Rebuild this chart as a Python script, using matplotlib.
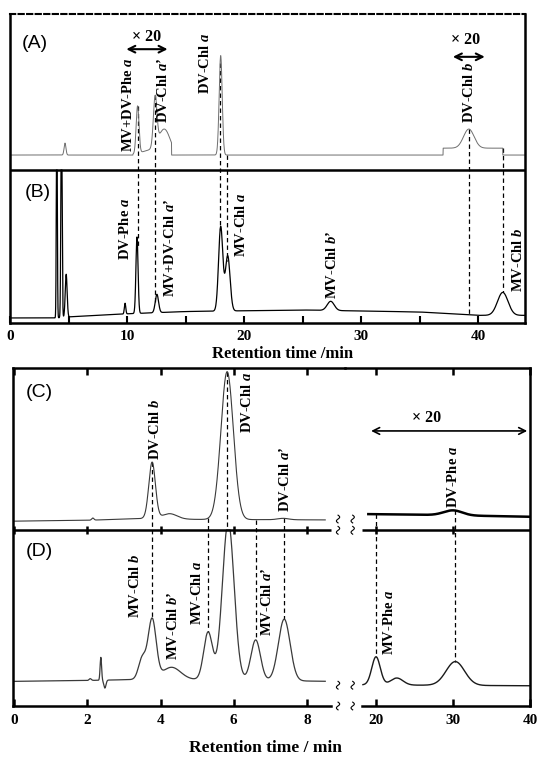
import numpy as np
import matplotlib.pyplot as plt

plt.rcParams['mathtext.fontset'] = 'custom'
plt.rcParams['mathtext.rm'] = 'Liberation Serif:bold'
plt.rcParams['mathtext.it'] = 'Liberation Serif:italic:bold'
plt.rcParams['mathtext.bf'] = 'Liberation Serif:bold'

SERIF = dict(family='Liberation Serif', weight='bold')
LBL = 10.5

# ---------------- (A)/(B): full run, 0-44 min ----------------
# trace A (upper) : flat baseline + peaks, two x20 windows
A_base_t = [0, 44]
A_base_y = [1.098, 1.098]
A_rt = [4.7, 18.0]
A_h = [0.078, 0.65]
A_w = [0.08, 0.13]
# window: start, end, offset, retention times, heights, widths
A_win = [
    (10.5, 13.8, 0.0, [10.9, 12.0, 12.4, 13.2], [0.31, 0.03, 0.32, 0.16], [0.12, 0.8, 0.15, 0.5]),
    (37.0, 42.1, 0.045, [39.2], [0.125], [0.45]),
]

# trace B (lower)
B_base_t = [0, 4, 5, 10, 15, 25, 35, 40, 44]
B_base_y = [0.033, 0.033, 0.04, 0.06, 0.075, 0.085, 0.072, 0.05, 0.05]
B_rt = [4.0, 4.4, 4.8, 9.83, 10.85, 12.55, 18.0, 18.6, 27.4, 42.1]
B_h = [1.5, 1.5, 0.28, 0.07, 0.50, 0.12, 0.55, 0.36, 0.06, 0.15]
B_w = [0.04, 0.05, 0.08, 0.06, 0.09, 0.14, 0.18, 0.2, 0.3, 0.45]

AB_dash = [10.9, 12.4, 17.95, 18.5, 39.2, 42.1]
A_labels = [("MV+DV-Phe $a$", 10.1, 1.12), ("DV-Chl $a$\u2019", 13.1, 1.31),
            ("DV-Chl $a$", 16.7, 1.50), ("DV-Chl $b$", 39.2, 1.31)]
B_labels = [("DV-Phe $a$", 9.8, 0.41), ("MV+DV-Chl $a$\u2019", 13.7, 0.17),
            ("MV-Chl $a$", 19.7, 0.43), ("MV-Chl $b$\u2019", 27.5, 0.16),
            ("MV-Chl $b$", 43.4, 0.20)]

# ---------------- (C)/(D): broken axis 0-8.65 | 18.2-40 min ----------------
C_base_t = [0, 2, 3.5, 5, 8.65]
C_base_y = [1.050, 1.055, 1.065, 1.060, 1.057]
C_rt = [2.15, 3.77, 4.25, 5.82, 7.35]
C_h = [0.012, 0.32, 0.03, 0.84, 0.008]
C_w = [0.03, 0.09, 0.2, 0.17, 0.15]

C2_base_t = [19.0, 28, 40]
C2_base_y = [1.09, 1.085, 1.075]
C2_rt = [30.0]
C2_h = [0.028]
C2_w = [1.2]

D_base_t = [0, 2, 3.2, 5, 8.65]
D_base_y = [0.14, 0.145, 0.15, 0.15, 0.14]
D_rt = [2.08, 2.37, 2.48, 3.5, 3.77, 4.3, 5.3, 5.85, 6.6, 7.38]
D_h = [0.01, 0.13, -0.045, 0.12, 0.34, 0.07, 0.27, 0.9, 0.23, 0.35]
D_w = [0.03, 0.02, 0.03, 0.1, 0.11, 0.25, 0.12, 0.16, 0.13, 0.16]

D2_base_t = [18.3, 40]
D2_base_y = [0.12, 0.115]
D2_rt = [20.0, 22.7, 30.3]
D2_h = [0.16, 0.04, 0.135]
D2_w = [0.55, 0.8, 1.2]

CD_dash = [3.77, 5.3, 5.82, 6.6, 7.37]
CD2_dash = [20.0, 30.2]
C_labels = [("DV-Chl $b$", 3.85, 1.40), ("DV-Chl $a$", 6.37, 1.55), ("DV-Chl $a$\u2019", 7.4, 1.10)]
C2_labels = [("DV-Phe $a$", 30.0, 1.125)]
D_labels = [("MV-Chl $b$", 3.3, 0.50), ("MV-Chl $b$\u2019", 4.34, 0.26),
            ("MV-Chl $a$", 5.0, 0.46), ("MV-Chl $a$\u2019", 6.9, 0.40)]
D2_labels = [("MV-Phe $a$", 21.7, 0.29)]


def peaks(t, rt, h, w):
    y = np.zeros_like(t)
    for r, a, s in zip(rt, h, w):
        y += a * np.exp(-0.5 * ((t - r) / s) ** 2)
    return y


def trace(t, bt, by, rt, h, w, wins=()):
    y = np.interp(t, bt, by) + peaks(t, rt, h, w)
    for x0, x1, off, r, a, s in wins:
        m = (t >= x0) & (t <= x1)
        y[m] += off + peaks(t[m], r, a, s)
    return y


def vlabel(ax, items):
    for txt, x, y in items:
        ax.text(x, y, txt, rotation=90, ha='center', va='bottom', fontsize=LBL, **SERIF)


def connect(ax, xs, f_top, f_bot):
    for x in xs:
        xx = np.array([x])
        ax.plot([x, x], [f_top(xx)[0], f_bot(xx)[0]], color='k', lw=0.9,
                dashes=(3.5, 2.5), zorder=1)


def squiggle(ax, xb, yb):
    # small vertical wave used as an axis-break mark
    s = np.linspace(-1, 1, 25)
    ax.plot(xb + 0.045 * np.sin(np.pi * s), yb + 0.022 * s, color='k', lw=0.8,
            clip_on=False, zorder=5)


W, H = 539, 758


def box(x0, y0, x1, y1):
    return [x0 / W, 1 - y1 / H, (x1 - x0) / W, (y1 - y0) / H]


fig = plt.figure(figsize=(W / 100, H / 100), dpi=100)

# ---------- top panel ----------
ax1 = fig.add_axes(box(10, 14, 525, 323))
t = np.linspace(0, 44, 6000)
fA = lambda x: trace(x, A_base_t, A_base_y, A_rt, A_h, A_w, A_win)
fB = lambda x: np.minimum(trace(x, B_base_t, B_base_y, B_rt, B_h, B_w), 1.0)
ax1.plot(t, fA(t), color='#6e6e6e', lw=0.7)
ax1.plot(t, fB(t), color='k', lw=0.9)
ax1.axhline(1.0, color='k', lw=1.8)
connect(ax1, AB_dash, fA, fB)
vlabel(ax1, A_labels)
vlabel(ax1, B_labels)
ax1.annotate('', xy=(9.7, 1.79), xytext=(13.7, 1.79),
             arrowprops=dict(arrowstyle='<->', lw=1.5, mutation_scale=12))
ax1.text(11.7, 1.82, '\u00d7 20', ha='center', va='bottom', fontsize=11.5, **SERIF)
ax1.annotate('', xy=(37.6, 1.74), xytext=(40.8, 1.74),
             arrowprops=dict(arrowstyle='<->', lw=1.5, mutation_scale=12))
ax1.text(38.9, 1.80, '\u00d7 20', ha='center', va='bottom', fontsize=11.5, **SERIF)
ax1.text(2.1, 1.83, '(A)', ha='center', va='center', fontsize=14, family='Liberation Sans')
ax1.text(2.4, 0.85, '(B)', ha='center', va='center', fontsize=14, family='Liberation Sans')

ax1.set_xlim(0, 44)
ax1.set_ylim(0, 2.02)
ax1.set_xticks([0, 10, 20, 30, 40])
ax1.set_xticks([5, 15, 25, 35], minor=True)
ax1.set_yticks([])
ax1.tick_params(axis='x', which='both', direction='in', length=5, width=1.5, pad=5)
for lab in ax1.get_xticklabels():
    lab.set_fontproperties('Liberation Serif')
    lab.set_fontweight('bold')
    lab.set_fontsize(11)
for s in ['left', 'right', 'bottom']:
    ax1.spines[s].set_linewidth(1.8)
ax1.spines['top'].set_linewidth(1.5)
ax1.spines['top'].set_linestyle((0, (2.5, 1.6)))
ax1.set_xlabel('Retention time /min', fontsize=12, labelpad=1, **SERIF)
ax1.xaxis.set_label_coords(0.53, -0.075)

# ---------- bottom panel: left and right halves of the broken axis ----------
ax3 = fig.add_axes(box(345, 368, 530, 706))
ax2 = fig.add_axes(box(13, 368, 345, 706))
ax2.patch.set_visible(False)
tl = np.linspace(0, 8.5, 3000)
tr = np.linspace(18.3, 40, 3000)
tc = np.linspace(19.0, 40, 3000)
fC = lambda x: trace(x, C_base_t, C_base_y, C_rt, C_h, C_w)
fD = lambda x: np.minimum(trace(x, D_base_t, D_base_y, D_rt, D_h, D_w), 1.0)
fC2 = lambda x: trace(x, C2_base_t, C2_base_y, C2_rt, C2_h, C2_w)
fD2 = lambda x: trace(x, D2_base_t, D2_base_y, D2_rt, D2_h, D2_w)

ax2.plot(tl, fC(tl), color='#3a3a3a', lw=0.8)
ax2.plot(tl, fD(tl), color='#3a3a3a', lw=0.9)
ax3.plot(tc, fC2(tc), color='k', lw=1.8)
ax3.plot(tr, fD2(tr), color='#1a1a1a', lw=1.0)
connect(ax2, CD_dash, fC, fD)
connect(ax3, CD2_dash, fC2, fD2)
vlabel(ax2, C_labels)
vlabel(ax2, D_labels)
vlabel(ax3, C2_labels)
vlabel(ax3, D2_labels)
ax3.annotate('', xy=(19.0, 1.5625), xytext=(40.0, 1.5625),
             arrowprops=dict(arrowstyle='<->', lw=1.2, mutation_scale=12))
ax3.text(26.6, 1.59, '\u00d7 20', ha='center', va='bottom', fontsize=11.5, **SERIF)
ax2.text(0.68, 1.78, '(C)', ha='center', va='center', fontsize=14, family='Liberation Sans')
ax2.text(0.68, 0.875, '(D)', ha='center', va='center', fontsize=14, family='Liberation Sans')

left_ticks = [0, 2, 4, 6, 8]
right_ticks = [20, 30, 40]
ax2.set_xlim(-0.03, 9.04)
ax3.set_xlim(15.97, 40.0)
for ax, ticks, lo, hi in [(ax2, left_ticks, -0.03, 8.65), (ax3, right_ticks, 18.2, 40.0)]:
    ax.set_ylim(0, 1.92)
    ax.set_yticks([])
    ax.set_xticks(ticks)
    ax.tick_params(axis='x', direction='in', length=5, width=1.8, top=True, pad=6)
    for lab in ax.get_xticklabels():
        lab.set_fontproperties('Liberation Serif')
        lab.set_fontweight('bold')
        lab.set_fontsize(11)
    for s in ax.spines.values():
        s.set_linewidth(1.8)
    ax.spines['bottom'].set_bounds(lo, hi)
    ax.hlines(1.0, lo, hi, color='k', lw=1.8)
    inner = [v for v in ticks if lo < v < 40]
    ax.vlines(inner, 0.975, 1.025, color='k', lw=1.8)
ax2.spines['right'].set_visible(False)
ax3.spines['left'].set_visible(False)

# axis-break marks
for xb in [8.85, 9.25]:
    for yb in [1.062, 0.998, 0.118, 0.0]:
        squiggle(ax2, xb, yb)

fig.text(265 / W, 1 - 748 / H, 'Retention time / min', ha='center', va='center',
         fontsize=12.5, **SERIF)

fig.savefig('out.png', dpi=100)
